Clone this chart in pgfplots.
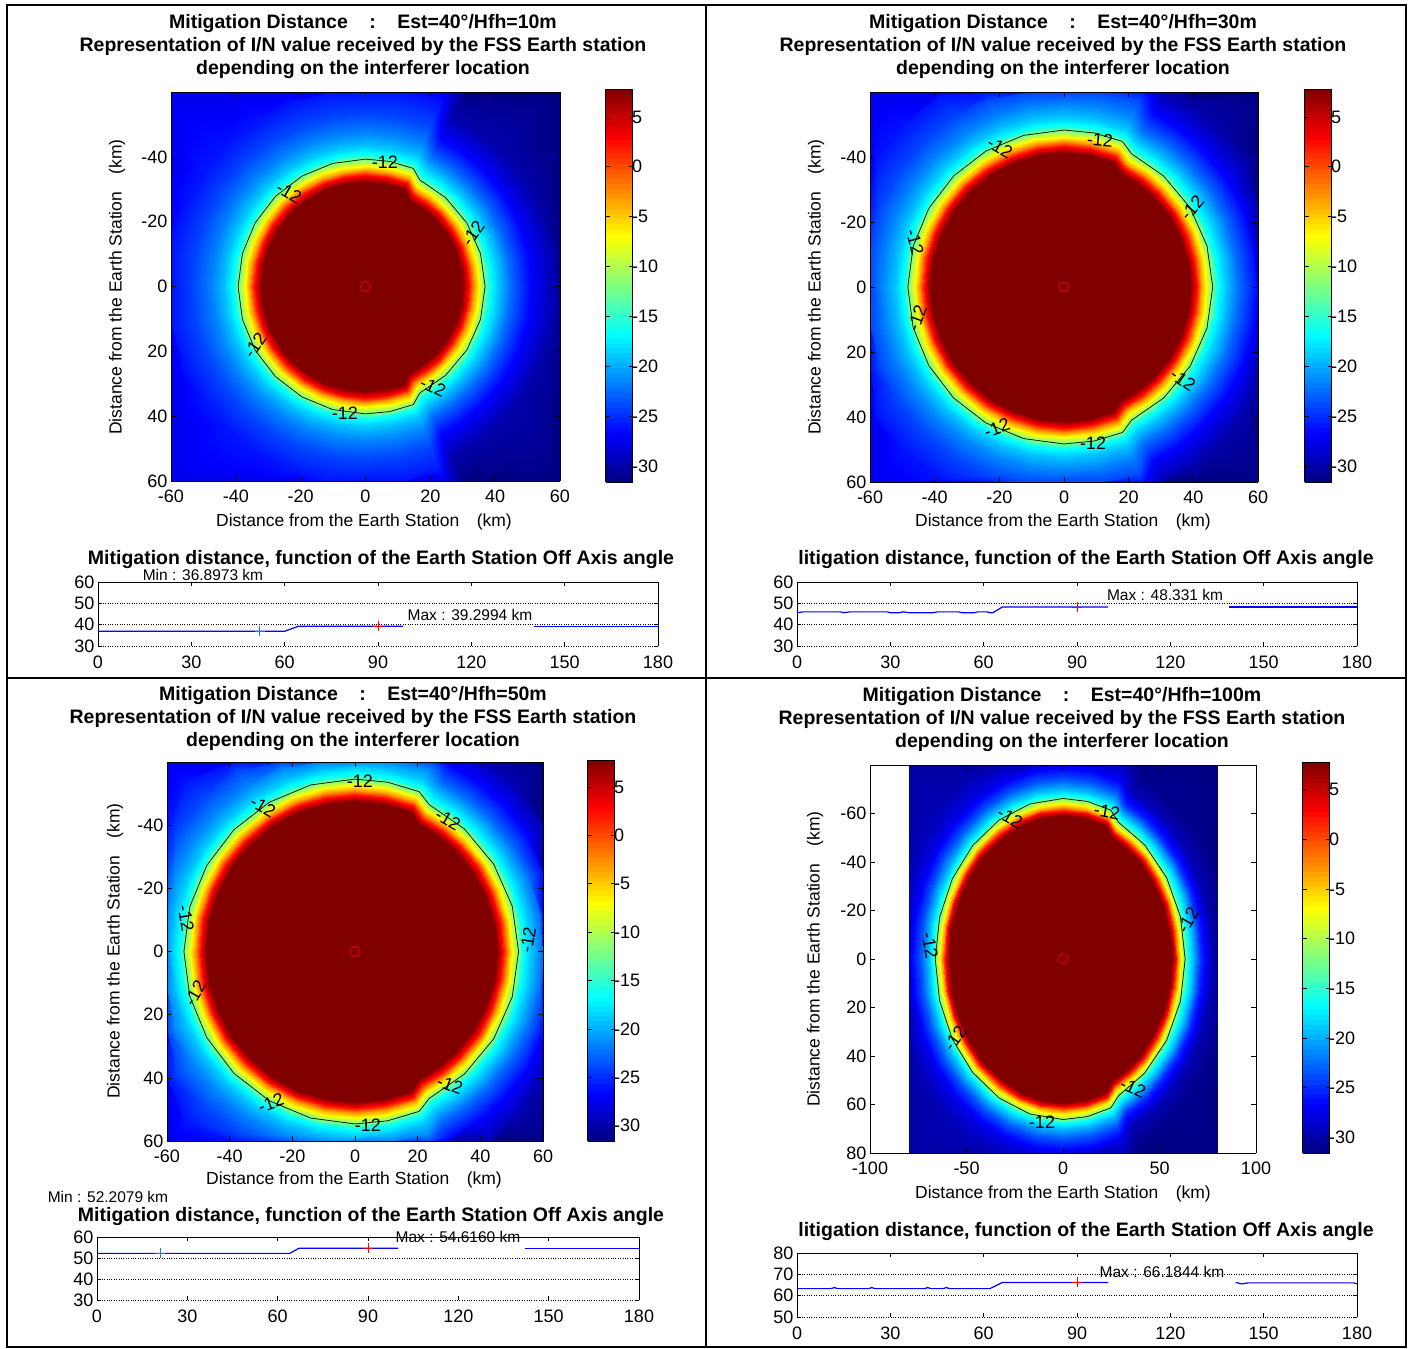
\documentclass[border=0pt]{standalone}
\usepackage{fontspec}
\setmainfont{Liberation Sans}
\usepackage{pgfplots}
\usepackage{pgfplotstable}
\pgfplotsset{compat=1.18}
\pgfplotsset{/pgf/number format/assume math mode=true}

% radial I/N profiles (B: general direction, W: wedge on the right side)
\pgfplotstableread{
rB vB rW vW
0 7.8 0 7.8
32.3 7.8 29.9 7.8
34.3 2.5 31.9 2.5
35.8 -3 33.4 -3
37.3 -7 34.9 -7
39.3 -12.5 36.9 -12.5
40.8 -16.5 38.4 -16.5
43.3 -19 40.9 -19
47.3 -21.5 44.9 -22.5
53.3 -24 50.9 -26.5
61.3 -26 58.9 -30
200 -27.5 200 -31.5
}\profA
\pgfplotstableread{
rB vB rW vW
0 7.8 0 7.8
41.3 7.8 39.0 7.8
43.3 2.5 41.0 2.5
44.8 -3 42.5 -3
46.3 -7 44.0 -7
48.3 -12.5 46.0 -12.5
49.8 -16.5 47.5 -16.5
52.3 -19 50.0 -19
56.3 -21.5 54.0 -22.5
62.3 -24 60.0 -26.5
70.3 -26 68.0 -30
200 -27.5 200 -31.5
}\profB
\pgfplotstableread{
rB vB rW vW
0 7.8 0 7.8
47.6 7.8 45.2 7.8
49.6 2.5 47.2 2.5
51.1 -3 48.7 -3
52.6 -7 50.2 -7
54.6 -12.5 52.2 -12.5
56.1 -16.5 53.7 -16.5
58.6 -19 56.2 -19
62.6 -21.5 60.2 -22.5
68.6 -24 66.2 -26.5
76.6 -26 74.2 -30
200 -27.5 200 -31.5
}\profC
\pgfplotstableread{
rB vB rW vW
0 7.8 0 7.8
59.2 7.8 56.3 7.8
61.2 2.5 58.3 2.5
62.7 -3 59.8 -3
64.2 -7 61.3 -7
66.2 -12.5 63.3 -12.5
67.7 -16.5 64.8 -16.5
70.2 -19.5 67.3 -19.5
74.2 -23.5 71.3 -25
80.2 -27.5 77.3 -29.5
88.2 -29.5 85.3 -31
200 -30.3 200 -31.5
}\profD

% -12 contour radius by direction
\pgfplotstableread{
a r1 r2 r3 r4
-180 39.3 48.3 54.6 66.2
-165 39.3 48.3 54.6 66.2
-150 39.3 48.3 54.6 66.2
-135 39.3 48.3 54.6 66.2
-120 39.3 48.3 54.6 66.2
-105 39.3 48.3 54.6 66.2
-90 39.3 48.3 54.6 66.2
-79 39.3 48.3 54.6 66.2
-68 39.3 48.3 54.6 66.2
-63 36.9 46.0 52.2 63.3
-48 36.9 46.0 52.2 63.3
-32 36.9 46.0 52.2 63.3
-16 36.9 46.0 52.2 63.3
0 36.9 46.0 52.2 63.3
16 36.9 46.0 52.2 63.3
32 36.9 46.0 52.2 63.3
48 36.9 46.0 52.2 63.3
63 36.9 46.0 52.2 63.3
68 39.3 48.3 54.6 66.2
79 39.3 48.3 54.6 66.2
90 39.3 48.3 54.6 66.2
105 39.3 48.3 54.6 66.2
120 39.3 48.3 54.6 66.2
135 39.3 48.3 54.6 66.2
150 39.3 48.3 54.6 66.2
165 39.3 48.3 54.6 66.2
180 39.3 48.3 54.6 66.2
}\contourtbl

\newcommand\meshangles{-180/0,-168/0,-157/0,-146/0,-135/0,-123/0,-112/0,-101/0,-90/0,-79/0,-68/0,-63/1,-54/1,-45/1,-34/1,-23/1,-11/1,0/1,11/1,23/1,34/1,45/1,54/1,63/1,68/0,79/0,90/0,101/0,112/0,123/0,135/0,146/0,157/0,168/0,180/0}
\newcommand\buildmesh[2]{%
  \gdef\meshbuf{a r v\\}%
  \foreach \ang/\fl in \meshangles {%
    \foreach \i in {0,...,11} {%
      \ifnum\fl=1
        \pgfplotstablegetelem{\i}{rW}\of#1\edef\rr{\pgfplotsretval}%
        \pgfplotstablegetelem{\i}{vW}\of#1\edef\vv{\pgfplotsretval}%
      \else
        \pgfplotstablegetelem{\i}{rB}\of#1\edef\rr{\pgfplotsretval}%
        \pgfplotstablegetelem{\i}{vB}\of#1\edef\vv{\pgfplotsretval}%
      \fi
      \xdef\meshbuf{\unexpanded\expandafter{\meshbuf}\ang\space\rr\space\vv\noexpand\\}%
    }%
  }%
  \edef\tmp{\noexpand\pgfplotstableread[row sep=\noexpand\\]{\unexpanded\expandafter{\meshbuf}}\noexpand#2}%
  \tmp
}
\buildmesh{\profA}{\meshA}
\buildmesh{\profB}{\meshB}
\buildmesh{\profC}{\meshC}
\buildmesh{\profD}{\meshD}

\newcommand\tickfont{\fontsize{18}{18}\selectfont}
\newcommand\titlefont{\bfseries\fontsize{19.5}{23}\selectfont}
\newcommand\labfont{\fontsize{17.5}{17.5}\selectfont}
\newcommand\annfont{\fontsize{15.5}{15.5}\selectfont}
\newcommand\cfont{\fontsize{18}{18}\selectfont}

\pgfplotsset{
  hm/.style={scale only axis, view={0}{90}, y dir=reverse, axis on top,
    ztick=\empty, zticklabels={},
    tick align=inside, major tick length=5pt, tick style={black, line width=0.6pt},
    axis line style={line width=0.8pt},
    xticklabel style={yshift=-5pt},
    colormap/jet, point meta min=-31.6, point meta max=7.8, colorbar sampled,
    tick label style={font=\tickfont}},
  cbs/.style n args={3}{colorbar style={at={(parent axis.north east)}, anchor=north west,
    xshift=#1, yshift=#2, width=27pt, height=#3, scale only axis, samples=80,
    ytick={-30,-25,...,5}, tick align=inside, major tick length=4pt,
    tick style={black, line width=0.6pt},
    tick label style={font=\tickfont}, yticklabel style={xshift=-4pt},
    axis line style={line width=0.8pt}}},
  lp/.style={scale only axis, xmin=0, xmax=180, xtick={0,30,...,180},
    ymajorgrids, grid style={black, dotted, line width=0.7pt},
    axis line style={draw=none}, tick align=inside, major tick length=4pt,
    tick style={black, line width=0.6pt}, clip=false,
    xticklabel style={yshift=-6pt},
    tick label style={font=\tickfont}},
}
\newcommand\heat[2]{\addplot3[surf, shader=interp, mesh/cols=12] table[
  x expr={min(\thisrow{r},#2/max(abs(cos(\thisrow{a})),abs(sin(\thisrow{a}))))*cos(\thisrow{a})},
  y expr={min(\thisrow{r},#2/max(abs(cos(\thisrow{a})),abs(sin(\thisrow{a}))))*sin(\thisrow{a})},
  z=v] {#1};}
\newcommand\cont[1]{\addplot3[black, line width=0.7pt] table[
  x expr={\thisrow{#1}*cos(\thisrow{a})}, y expr={\thisrow{#1}*sin(\thisrow{a})}, z expr=0] {\contourtbl};
  \addplot3[red, only marks, mark=o, mark size=5pt, line width=0.6pt] coordinates {(0,0,0)};}
\newcommand\frm{\draw[line width=0.8pt] (rel axis cs:0,0) -- (rel axis cs:0,1) -- (rel axis cs:1,1) -- (rel axis cs:1,0);}

\begin{document}
\begin{tikzpicture}
\useasboundingbox (0pt,0pt) rectangle (1411pt,1349pt);

% ---------------- panel 1
\begin{axis}[hm, at={(171pt,868pt)}, anchor=south west, width=389pt, height=389pt,
  xmin=-60, xmax=60, ymin=-60, ymax=60, xtick={-60,-40,...,60}, ytick={-40,-20,...,60},
  cbs={37pt}{3pt}{393pt}]
\heat{\meshA}{60}
\cont{r1}
\end{axis}
% ---------------- panel 2
\begin{axis}[hm, at={(870pt,867pt)}, anchor=south west, width=388pt, height=390pt,
  xmin=-60, xmax=60, ymin=-60, ymax=60, xtick={-60,-40,...,60}, ytick={-40,-20,...,60},
  cbs={38pt}{3pt}{393pt}]
\heat{\meshB}{60}
\cont{r2}
\end{axis}
% ---------------- panel 3
\begin{axis}[hm, at={(167pt,208pt)}, anchor=south west, width=376pt, height=379pt,
  xmin=-60, xmax=60, ymin=-60, ymax=60, xtick={-60,-40,...,60}, ytick={-40,-20,...,60},
  cbs={36pt}{2pt}{381pt}]
\heat{\meshC}{60}
\cont{r3}
\end{axis}
% ---------------- panel 4
\begin{axis}[hm, at={(870pt,196pt)}, anchor=south west, width=386pt, height=388pt,
  xmin=-100, xmax=100, ymin=-80, ymax=80, xtick={-100,-50,...,100}, ytick={-60,-40,...,80},
  cbs={38pt}{3pt}{391pt}]
\heat{\meshD}{80}
\cont{r4}
\end{axis}

% ---------------- line plots
\begin{axis}[lp, at={(98pt,703pt)}, anchor=south west, width=560pt, height=64pt,
  ymin=30, ymax=60, ytick={30,40,50,60}]
\frm
\addplot[blue, line width=1.2pt] coordinates {(0,36.9)(60,36.9)(64.5,39.3)(98,39.3)};
\addplot[blue, line width=1.2pt] coordinates {(140,39.3)(180,39.3)};
\addplot[red, only marks, mark=+, mark size=5pt, line width=0.8pt] coordinates {(90,39.3)};
\addplot[color={rgb,1:red,0.1;green,0.5;blue,0.8}, only marks, mark=+, mark size=5pt, line width=0.8pt] coordinates {(52,36.9)};
\end{axis}
\begin{axis}[lp, at={(797pt,703pt)}, anchor=south west, width=560pt, height=64pt,
  ymin=30, ymax=60, ytick={30,40,50,60}]
\frm
\addplot[blue, line width=1.2pt] coordinates {(0,45.6)(2,46.0)(14,46.0)(15,45.6)(17,46.0)(29,46.0)(30,45.6)(33,45.6)(34,46.0)(36,45.6)(44,45.6)(45,46.0)(52,46.0)(53,45.6)(57,45.6)(58,46.0)(61,46.0)(62,45.6)(63,45.6)(66,48.3)(100,48.3)};
\addplot[blue, line width=1.2pt] coordinates {(139,48.3)(180,48.3)};
\addplot[red, only marks, mark=+, mark size=5pt, line width=0.8pt] coordinates {(90,48.3)};
\end{axis}
\begin{axis}[lp, at={(97pt,49pt)}, anchor=south west, width=542pt, height=63pt,
  ymin=30, ymax=60, ytick={30,40,50,60}]
\frm
\addplot[blue, line width=1.2pt] coordinates {(0,52.2)(64,52.2)(67,54.6)(100,54.6)};
\addplot[blue, line width=1.2pt] coordinates {(142,54.6)(180,54.6)};
\addplot[red, only marks, mark=+, mark size=5pt, line width=0.8pt] coordinates {(90,54.6)};
\addplot[color={rgb,1:red,0.1;green,0.5;blue,0.8}, only marks, mark=+, mark size=5pt, line width=0.8pt] coordinates {(21,52.2)};
\end{axis}
\begin{axis}[lp, at={(797pt,32pt)}, anchor=south west, width=560pt, height=64pt,
  ymin=50, ymax=80, ytick={50,60,70,80}]
\frm
\addplot[blue, line width=1.2pt] coordinates {(0,63.3)(11,63.3)(12,63.8)(13,63.3)(23,63.3)(24,63.8)(25,63.3)(41,63.3)(42,63.8)(43,63.3)(47,63.3)(48,63.8)(49,63.3)(62,63.3)(66,66.2)(100,66.2)};
\addplot[blue, line width=1.2pt] coordinates {(141,66.2)(143,65.5)(145,66.0)(179,66.0)(180,65.5)};
\addplot[red, only marks, mark=+, mark size=5pt, line width=0.8pt] coordinates {(90,66.2)};
\end{axis}

% ---------------- titles and labels
\node[font=\titlefont, align=center] at (363pt,1302pt) {Mitigation Distance\hspace{1.1em}:\hspace{1.1em}Est=40°/Hfh=10m\\Representation of I/N value received by the FSS Earth station\\depending on the interferer location};
\node[font=\titlefont, align=center] at (1063pt,1302pt) {Mitigation Distance\hspace{1.1em}:\hspace{1.1em}Est=40°/Hfh=30m\\Representation of I/N value received by the FSS Earth station\\depending on the interferer location};
\node[font=\titlefont, align=center] at (353pt,630pt) {Mitigation Distance\hspace{1.1em}:\hspace{1.1em}Est=40°/Hfh=50m\\Representation of I/N value received by the FSS Earth station\\depending on the interferer location};
\node[font=\titlefont, align=center] at (1062pt,629pt) {Mitigation Distance\hspace{1.1em}:\hspace{1.1em}Est=40°/Hfh=100m\\Representation of I/N value received by the FSS Earth station\\depending on the interferer location};

\node[font=\labfont] at (364pt,827pt) {Distance from the Earth Station\hspace{1em}(km)};
\node[font=\labfont] at (1063pt,827pt) {Distance from the Earth Station\hspace{1em}(km)};
\node[font=\labfont] at (354pt,169pt) {Distance from the Earth Station\hspace{1em}(km)};
\node[font=\labfont] at (1063pt,155pt) {Distance from the Earth Station\hspace{1em}(km)};
\node[font=\labfont, rotate=90] at (117pt,1062pt) {Distance from the Earth Station\hspace{1em}(km)};
\node[font=\labfont, rotate=90] at (816pt,1062pt) {Distance from the Earth Station\hspace{1em}(km)};
\node[font=\labfont, rotate=90] at (115pt,398pt) {Distance from the Earth Station\hspace{1em}(km)};
\node[font=\labfont, rotate=90] at (815pt,390pt) {Distance from the Earth Station\hspace{1em}(km)};

% line-plot titles
\node[font=\titlefont] at (381pt,789pt) {Mitigation distance, function of the Earth Station Off Axis angle};
\node[font=\titlefont] at (1086pt,789pt) {litigation distance, function of the Earth Station Off Axis angle};
\node[font=\titlefont] at (371pt,132pt) {Mitigation distance, function of the Earth Station Off Axis angle};
\node[font=\titlefont] at (1086pt,117pt) {litigation distance, function of the Earth Station Off Axis angle};

% min / max annotations
\node[font=\annfont, fill=white, inner sep=1pt] at (203pt,774pt) {Min : 36.8973 km};
\node[font=\annfont] at (470pt,734pt) {Max : 39.2994 km};
\node[font=\annfont] at (1165pt,754pt) {Max : 48.331 km};
\node[font=\annfont, fill=white, inner sep=1pt] at (108pt,152pt) {Min : 52.2079 km};
\node[font=\annfont] at (458pt,112pt) {Max : 54.6160 km};
\node[font=\annfont] at (1162pt,77pt) {Max : 66.1844 km};

% contour labels
\foreach \x/\y/\r in {289/1156/-30, 385/1187/0, 473/1116/55, 255/1004/55, 433/962/-25, 345/936/0,
  1000/1201/-30, 1100/1209/-5, 1192/1141/50, 915/1107/-75, 917/1031/70, 1183/969/-35, 997/921/20, 1093/906/0,
  360/568/0, 263/542/-30, 448/529/-30, 186/431/-80, 528/409/80, 195/356/60, 271/246/20, 450/264/-20, 368/224/0,
  1010/531/-30, 1107/537/-10, 1188/429/60, 930/404/-80, 955/311/55, 1133/261/-25, 1042/227/0}
  {\node[font=\cfont, rotate=\r, inner sep=0pt] at (\x pt,\y pt) {-12};}

% frame lines
\draw[line width=1.5pt] (7pt,2pt) rectangle (1406pt,1344pt);
\draw[line width=1.5pt] (706pt,2pt) -- (706pt,1344pt);
\draw[line width=1.5pt] (7pt,671pt) -- (1406pt,671pt);
\end{tikzpicture}
\end{document}
